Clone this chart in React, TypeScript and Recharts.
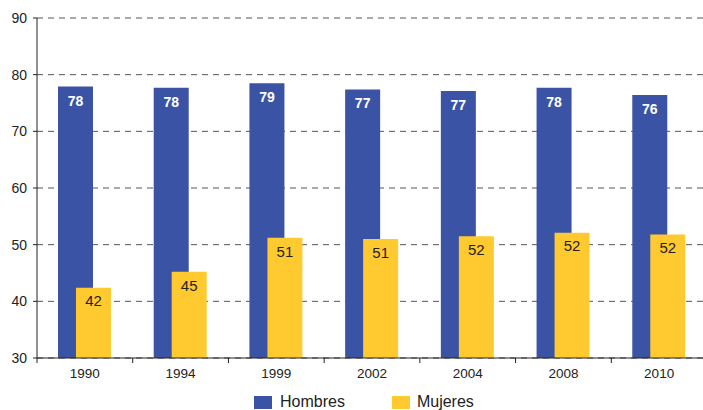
import { BarChart, Bar, XAxis, YAxis, CartesianGrid, LabelList, Legend } from 'recharts';

const years = ['1990', '1994', '1999', '2002', '2004', '2008', '2010'];
const hombres = [77.9, 77.7, 78.5, 77.4, 77.1, 77.7, 76.4];
const mujeres = [42.4, 45.2, 51.2, 51.0, 51.5, 52.1, 51.8];
const yTicks = [30, 40, 50, 60, 70, 80, 90];

const data = years.map((year, i) => ({
  year,
  hombres: hombres[i],
  mujeres: mujeres[i],
}));

const CHART_W = 707;
const Y_AXIS_W = 37;
const BAND = (CHART_W - Y_AXIS_W) / years.length;

const BLUE = '#3A53A4';
const YELLOW = '#FFCA2F';
const FONT = '"Liberation Sans", Arial, sans-serif';

// year label at the band centre, small tick marks at the band edges
const XTick = (props: any) => {
  const { x, y, payload, index } = props;
  const left = x - BAND / 2;
  const right = x + BAND / 2;
  return (
    <g>
      <line x1={left} x2={left} y1={y} y2={y + 5} stroke='#222' />
      {index === years.length - 1 && <line x1={right} x2={right} y1={y} y2={y + 5} stroke='#222' />}
      <text x={x} y={y + 20} textAnchor='middle' fill='#222' fontSize={13.5} fontFamily={FONT}>
        {payload.value}
      </text>
    </g>
  );
};

const LegendContent = () => (
  <div
    style={{
      display: 'flex',
      alignItems: 'flex-end',
      height: 22,
      paddingLeft: 254,
      fontFamily: FONT,
      fontSize: 16,
      color: '#222',
      lineHeight: '16px',
    }}
  >
    <span style={{ display: 'flex', alignItems: 'center', marginRight: 47 }}>
      <span style={{ width: 18, height: 13, background: BLUE, display: 'inline-block', marginRight: 8 }} />
      Hombres
    </span>
    <span style={{ display: 'flex', alignItems: 'center' }}>
      <span style={{ width: 18, height: 13, background: YELLOW, display: 'inline-block', marginRight: 7 }} />
      Mujeres
    </span>
  </div>
);

const App = () => {
  return (
    <div style={{ position: 'absolute', left: 0, top: 0, width: 703, height: 410, overflow: 'hidden', background: '#fff' }}>
      <BarChart
        width={CHART_W}
        height={410}
        data={data}
        margin={{ top: 18, right: 0, bottom: 0, left: 0 }}
        barSize={35}
        barGap={-17}
      >
        <CartesianGrid vertical={false} stroke='#555' strokeDasharray='6 5' />
        <XAxis
          dataKey='year'
          height={30}
          interval={0}
          tick={<XTick />}
          tickLine={false}
          tickSize={0}
          tickMargin={0}
          stroke='#222'
        />
        <YAxis
          domain={[30, 90]}
          ticks={yTicks}
          width={Y_AXIS_W}
          stroke='#222'
          tickSize={4}
          tickMargin={6}
          allowDataOverflow
          tick={{ fill: '#222', fontSize: 14, fontFamily: FONT }}
        />
        <Legend verticalAlign='bottom' height={22} content={<LegendContent />} />
        <Bar dataKey='hombres' fill={BLUE} isAnimationActive={false}>
          <LabelList
            dataKey='hombres'
            position='insideTop'
            offset={9}
            formatter={(v: number) => Math.round(v)}
            fill='#fff'
            fontSize={14}
            fontWeight='bold'
            fontFamily={FONT}
          />
        </Bar>
        <Bar dataKey='mujeres' fill={YELLOW} isAnimationActive={false}>
          <LabelList
            dataKey='mujeres'
            position='insideTop'
            offset={8}
            formatter={(v: number) => Math.round(v)}
            fill='#222'
            fontSize={15}
            fontFamily={FONT}
          />
        </Bar>
      </BarChart>
    </div>
  );
};

export default App;
